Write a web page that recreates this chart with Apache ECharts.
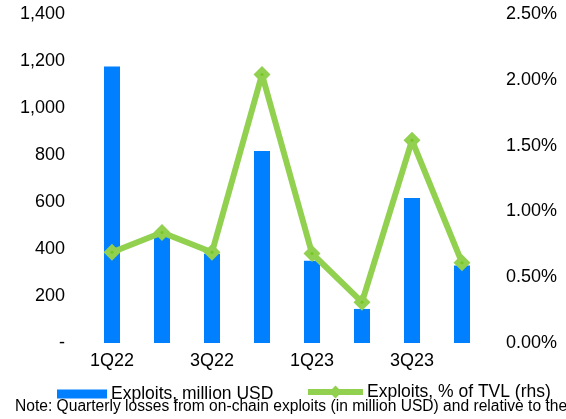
<!DOCTYPE html>
<html>
<head>
<meta charset="utf-8">
<script src="https://cdn.jsdelivr.net/npm/echarts@6/dist/echarts.min.js"></script>
<style>
html,body{margin:0;padding:0;background:#fff;}
#chart{width:566px;height:419px;}
</style>
</head>
<body>
<div id="chart"></div>
<script>
const categories = ['1Q22','2Q22','3Q22','4Q22','1Q23','2Q23','3Q23','4Q23'];
const exploitsUSD = [1177, 465, 380, 817, 350, 145, 617, 330];
const exploitsPctTVL = [0.69, 0.84, 0.69, 2.04, 0.68, 0.31, 1.54, 0.61];
const leftTicks = {min: 0, max: 1400, interval: 200};
const rightTicks = {min: 0, max: 2.5, interval: 0.5};
const barName = 'Exploits, million USD';
const lineName = 'Exploits, % of TVL (rhs)';
const noteText = 'Note: Quarterly losses from on-chain exploits (in million USD) and relative to the';

const FONT = 'Liberation Sans, Arial, sans-serif';
const chart = echarts.init(document.getElementById('chart'), null, {renderer: 'canvas'});
chart.setOption({
  animation: false,
  backgroundColor: '#ffffff',
  textStyle: {fontFamily: FONT},
  grid: {left: 87, right: 79, top: 14, bottom: 76, containLabel: false},
  legend: [
    {
      data: [barName], left: 52, top: 380,
      itemWidth: 50, itemHeight: 9, itemGap: 6,
      textStyle: {fontFamily: FONT, fontSize: 17.5, color: '#000', padding: [0,0,0,-1]},
      icon: 'rect'
    },
    {
      data: [lineName], left: 300, top: 378,
      itemWidth: 55, itemHeight: 16, itemGap: 4,
      lineStyle: {width: 6, color: '#92D050'},
      itemStyle: {color: '#92D050'},
      textStyle: {fontFamily: FONT, fontSize: 17.5, color: '#000', padding: [0,0,0,-1]}
    }
  ],
  xAxis: {
    type: 'category', data: categories,
    axisLine: {show: false}, axisTick: {show: false},
    axisLabel: {interval: 1, fontSize: 18, color: '#000', margin: 9, fontFamily: FONT}
  },
  yAxis: [
    {
      type: 'value', min: leftTicks.min, max: leftTicks.max, interval: leftTicks.interval,
      splitLine: {show: false}, axisLine: {show: false}, axisTick: {show: false},
      axisLabel: {fontSize: 18, color: '#000', margin: 22, fontFamily: FONT,
        formatter: v => v === 0 ? '-' : v.toLocaleString('en-US')}
    },
    {
      type: 'value', min: rightTicks.min, max: rightTicks.max, interval: rightTicks.interval,
      splitLine: {show: false}, axisLine: {show: false}, axisTick: {show: false},
      axisLabel: {fontSize: 18, color: '#000', margin: 19, fontFamily: FONT,
        formatter: v => v.toFixed(2) + '%'}
    }
  ],
  series: [
    {
      name: barName, type: 'bar', data: exploitsUSD, barWidth: 16,
      itemStyle: {color: '#0080FF'}
    },
    {
      name: lineName, type: 'line', yAxisIndex: 1, data: exploitsPctTVL,
      symbol: 'diamond', symbolSize: 17, showAllSymbol: true,
      lineStyle: {color: '#92D050', width: 6},
      itemStyle: {color: '#92D050'}
    },
    {
      name: 'dot', type: 'scatter', yAxisIndex: 1, data: exploitsPctTVL,
      symbol: 'circle', symbolSize: 3, itemStyle: {color: '#6CC417'}, z: 5,
      silent: true
    }
  ],
  graphic: [
    {
      type: 'text', left: 15, top: 399,
      style: {text: noteText, fontFamily: FONT, fontSize: 15.6, fill: '#000'}
    }
  ]
});
</script>
</body>
</html>
